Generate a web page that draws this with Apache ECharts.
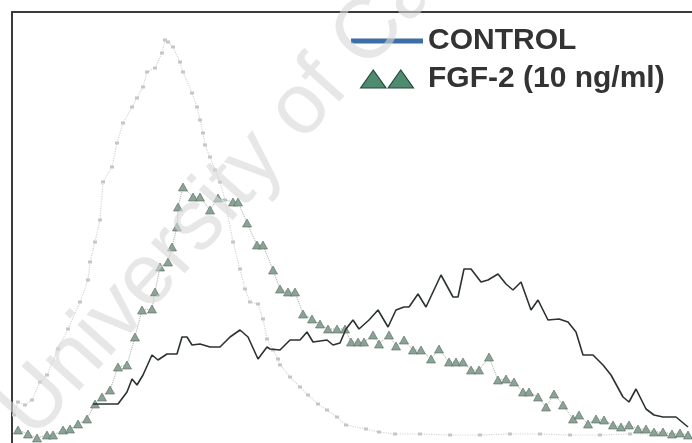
<!DOCTYPE html>
<html lang="en">

<head>
    <meta charset="utf-8">
    <title>CONTROL vs FGF-2</title>
    <script src="https://cdn.jsdelivr.net/npm/echarts@6/dist/echarts.min.js"></script>
    <style>
        html, body { margin: 0; padding: 0; background: #fff; }
        #main { width: 692px; height: 443px; }
    </style>
</head>

<body>
    <div id="main"></div>
    <script>
        // channel / count pairs
        var controlData = [
            [81, 39], [106, 39], [115, 51], [120, 64], [125, 58], [131, 68], [140, 88], [146, 83],
            [155, 89], [165, 89], [170, 106], [175, 106], [180, 98], [188, 99], [198, 96], [208, 96],
            [218, 106], [228, 113], [236, 106], [246, 84], [255, 96], [258, 94], [268, 93], [278, 103],
            [288, 103], [295, 111], [301, 101], [315, 103], [321, 98], [328, 100], [334, 114], [341, 123],
            [347, 114], [357, 123], [366, 133], [376, 116], [384, 133], [392, 136], [397, 136], [406, 149],
            [414, 136], [429, 168], [441, 146], [446, 146], [452, 174], [459, 174], [469, 161], [476, 163],
            [486, 169], [494, 159], [501, 153], [509, 161], [519, 133], [526, 143], [536, 123], [547, 124],
            [556, 121], [564, 111], [571, 88], [581, 88], [591, 78], [599, 68], [611, 46], [617, 41],
            [624, 54], [634, 34], [642, 28], [651, 26], [664, 26], [676, 16]
        ];

        var fgfData = [
            [6, 13], [16, 9], [25, 5], [35, 8], [41, 8], [51, 13], [58, 14], [66, 19], [75, 24], [83, 39],
            [90, 46], [98, 53], [106, 76], [115, 78], [123, 106], [130, 133], [140, 134], [143, 151],
            [148, 176], [156, 181], [160, 196], [165, 216], [166, 236], [171, 256], [181, 246], [188, 246],
            [198, 233], [206, 245], [221, 241], [226, 241], [235, 220], [245, 198], [251, 198], [261, 173],
            [268, 154], [276, 151], [283, 151], [291, 129], [300, 124], [308, 119], [316, 114], [325, 114],
            [333, 114], [339, 101], [346, 101], [352, 101], [361, 108], [367, 99], [377, 108], [384, 97],
            [392, 103], [401, 93], [409, 93], [419, 84], [427, 94], [437, 81], [444, 81], [451, 81],
            [459, 73], [467, 73], [477, 86], [486, 63], [494, 64], [502, 61], [511, 51], [517, 51],
            [526, 46], [534, 36], [542, 49], [551, 38], [561, 24], [567, 28], [576, 19], [584, 24],
            [592, 23], [601, 18], [609, 16], [617, 18], [626, 14], [634, 14], [642, 11], [651, 11],
            [660, 9], [668, 10], [676, 8]
        ];

        // the faint dotted trace (no legend entry)
        var otherData = [
            [2, 28], [6, 41], [13, 38], [20, 43], [28, 61], [35, 68], [46, 94], [56, 114], [68, 141],
            [76, 163], [78, 181], [83, 201], [88, 223], [91, 261], [100, 276], [105, 300], [111, 320],
            [120, 336], [125, 345], [131, 356], [135, 371], [143, 375], [150, 390], [153, 403], [156, 401],
            [161, 396], [168, 381], [171, 371], [180, 350], [185, 336], [188, 323], [191, 310], [193, 298],
            [198, 286], [203, 273], [208, 261], [213, 243], [221, 201], [228, 174], [233, 154], [238, 141],
            [246, 139], [251, 124], [255, 104], [261, 93], [266, 84], [268, 78], [278, 66], [288, 56],
            [296, 48], [306, 39], [315, 33], [325, 26], [334, 18], [354, 14], [367, 11], [383, 9],
            [408, 9], [438, 8], [468, 8], [498, 9], [528, 9], [558, 8], [588, 8], [618, 9], [648, 9], [676, 8]
        ];

        var legendNames = ['CONTROL', 'FGF-2 (10 ng/ml)'];

        var myChart = echarts.init(document.getElementById('main'));

        myChart.setOption({
            animation: false,
            backgroundColor: '#fff',
            grid: { left: 12, top: 12, right: 0, bottom: 0 },
            xAxis: {
                type: 'value',
                min: 0,
                max: 680,
                position: 'top',
                axisLine: { show: true, onZero: false, lineStyle: { color: '#3a3a3a', width: 2 } },
                axisTick: { show: false },
                axisLabel: { show: false },
                splitLine: { show: false }
            },
            yAxis: {
                type: 'value',
                min: 0,
                max: 431,
                axisLine: { show: true, lineStyle: { color: '#3a3a3a', width: 2 } },
                axisTick: { show: false },
                axisLabel: { show: false },
                splitLine: { show: false }
            },
            legend: {
                left: 351,
                top: 26,
                orient: 'vertical',
                padding: 0,
                itemGap: 8,
                itemWidth: 72,
                itemHeight: 18,
                textStyle: {
                    fontFamily: 'Liberation Sans',
                    fontSize: 30,
                    fontWeight: 'bold',
                    color: '#333'
                },
                data: [
                    {
                        name: legendNames[0],
                        icon: 'path://M0,0 L52,0 L52,3.5 L0,3.5 Z',
                        itemStyle: { color: '#3d6ea6' }
                    },
                    {
                        name: legendNames[1],
                        icon: 'path://M0,17 L12,0 L24,17 Z M26,17 L38,0 L50,17 Z',
                        itemStyle: { color: '#4f8c6f', borderColor: '#24493a', borderWidth: 1.2 }
                    }
                ]
            },
            graphic: [
                {
                    type: 'text',
                    x: 48,
                    y: 454,
                    rotation: 48 * Math.PI / 180,
                    z: 100,
                    silent: true,
                    style: {
                        text: 'University of Cape Town',
                        font: '86px "Liberation Sans"',
                        fill: 'rgba(215,215,215,0.6)',
                        align: 'left',
                        verticalAlign: 'bottom'
                    }
                }
            ],
            series: [
                {
                    name: 'other',
                    type: 'line',
                    data: otherData,
                    symbol: 'rect',
                    symbolSize: [4, 3],
                    itemStyle: { color: '#c6c6c6' },
                    lineStyle: { color: '#d4d4d4', width: 1.2, type: 'dotted' },
                    z: 1
                },
                {
                    name: legendNames[1],
                    type: 'line',
                    data: fgfData,
                    symbol: 'triangle',
                    symbolSize: [9, 8],
                    itemStyle: { color: '#8aa394', borderColor: '#56695e', borderWidth: 0.6 },
                    lineStyle: { color: '#a0aaa4', width: 1, type: 'dotted' },
                    z: 3
                },
                {
                    name: legendNames[0],
                    type: 'line',
                    data: controlData,
                    symbol: 'none',
                    lineStyle: { color: '#2c322f', width: 1.6 },
                    z: 4
                }
            ]
        });
        window.onresize = myChart.resize;
    </script>
</body>

</html>
